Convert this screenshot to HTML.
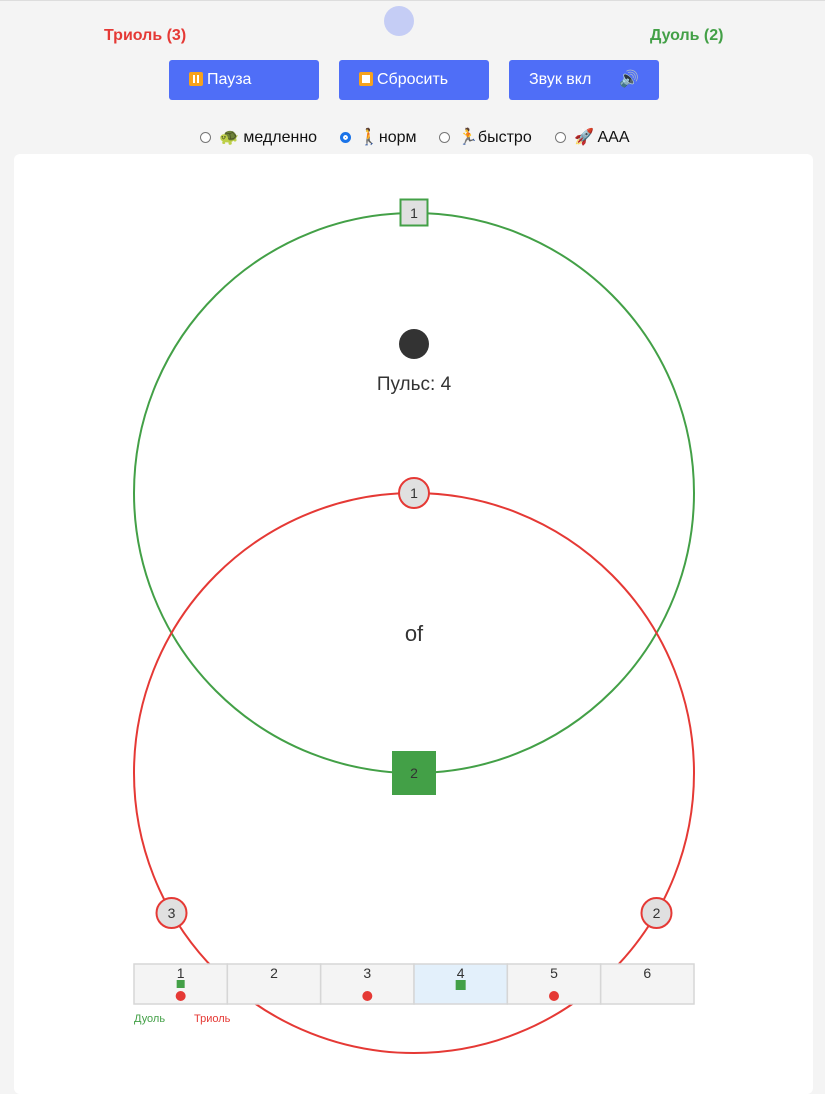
<!DOCTYPE html>
<html><head><meta charset="utf-8"><style>
body{margin:0;width:825px;height:1076px;background:#f4f4f4;font-family:"Liberation Sans",sans-serif;overflow:hidden;position:relative}
.abs{position:absolute}
.btn{position:absolute;top:60px;width:150px;height:40px;background:#4f6ef7;border-radius:3px;color:#fff;font-size:16px;line-height:40px;box-sizing:border-box;padding-left:20px}
.ic{display:inline-block;width:14px;height:14px;background:#f7a21b;border-radius:2px;vertical-align:-2px;margin-right:4px;position:relative}
.radio{position:absolute;top:127px;font-size:16px;color:#111;display:flex;align-items:center}
.radio i{display:inline-block;width:11px;height:11px;border:1px solid #777;border-radius:50%;margin-right:8px;background:#fff;box-sizing:border-box}
</style></head><body>
<div class="abs" style="left:0;top:0;width:825px;height:1px;background:#ddd"></div>
<div class="abs" style="left:384px;top:6px;width:30px;height:30px;border-radius:50%;background:#c5cdf5"></div>
<div class="abs" style="left:104px;top:27px;color:#e53935;font-weight:bold;font-size:16px">Триоль (3)</div>
<div class="abs" style="left:650px;top:27px;color:#43a047;font-weight:bold;font-size:16px">Дуоль (2)</div>
<div class="btn" style="left:169px"><span class="ic"><span style="position:absolute;left:4px;top:3px;width:2px;height:8px;background:#fff"></span><span style="position:absolute;left:8px;top:3px;width:2px;height:8px;background:#fff"></span></span>Пауза</div>
<div class="btn" style="left:339px"><span class="ic"><span style="position:absolute;left:3px;top:3px;width:8px;height:8px;background:#fff"></span></span>Сбросить</div>
<div class="btn" style="left:509px">Звук вкл <span style="position:absolute;left:110px">🔊</span></div>
<div class="radio" style="left:200px"><i></i>🐢 медленно</div>
<div class="radio" style="left:340px"><i style="border:3px solid #1a73e8;box-shadow:inset 0 0 0 2px #fff;background:#1a73e8"></i>🚶норм</div>
<div class="radio" style="left:439px"><i></i>🏃быстро</div>
<div class="radio" style="left:555px"><i></i>🚀 AAA</div>
<div class="abs" style="left:14px;top:154px;width:799px;height:940px;background:#fff;border-radius:6px"></div>
<svg class="abs" style="left:0;top:0" width="825" height="1076" font-family="Liberation Sans, sans-serif">
<circle cx="414" cy="493" r="280" fill="none" stroke="#43a047" stroke-width="2"/>
<circle cx="414" cy="773" r="280" fill="none" stroke="#e53935" stroke-width="2"/>
<circle cx="414" cy="344" r="15" fill="#333"/>
<text x="414" y="390" text-anchor="middle" font-size="19" fill="#333">Пульс: 4</text>
<text x="414" y="641" text-anchor="middle" font-size="22" fill="#333">of</text>
<g id="nodes"></g>
<g id="grid"></g>
<text x="134" y="1022" font-size="11" fill="#43a047">Дуоль</text>
<text x="194" y="1022" font-size="11" fill="#e53935">Триоль</text>
</svg>
<script>
const cells=[1,2,3,4,5,6];
const dupletHits=[1,4];
const tripletHits=[1,3,5];
const activeCell=4;
const NS="http://www.w3.org/2000/svg";
function mk(t,a){const e=document.createElementNS(NS,t);for(const k in a)e.setAttribute(k,a[k]);return e;}
const nodes=document.getElementById('nodes');
// duplet nodes
[0,1].forEach(i=>{const a=Math.PI*i;const x=414+280*Math.sin(a),y=493-280*Math.cos(a);
 const s=i==1?42:27;
 const r=mk('rect',{x:x-s/2,y:y-s/2,width:s,height:i==1?42:26,fill:i==1?'#43a047':'#e0e0e0',stroke:'#43a047','stroke-width':2});
 
 
 nodes.appendChild(r);
 const t=mk('text',{x:x,y:y+5,'text-anchor':'middle','font-size':14,fill:'#333'});t.textContent=i+1;
 
 
 nodes.appendChild(t);});
[0,1,2].forEach(i=>{const a=2*Math.PI*i/3;const x=414+280*Math.sin(a),y=773-280*Math.cos(a);
 const c=mk('circle',{cx:x,cy:y,r:15,fill:'#e0e0e0',stroke:'#e53935','stroke-width':2});
 
 
 nodes.appendChild(c);
 const t=mk('text',{x:x,y:y+5,'text-anchor':'middle','font-size':14,fill:'#333'});t.textContent=i+1;
 
 
 nodes.appendChild(t);});
const g=document.getElementById('grid');const x0=134,w=560/cells.length,y0=964,h=40;
cells.forEach((c,i)=>{const x=x0+i*w;
 const r=mk('rect',{x:x,y:y0,width:w,height:h,fill:c==activeCell?'#e3f0fb':'#f4f4f4',stroke:'#d6d6d6','stroke-width':1.5});
 
 
 g.appendChild(r);
 const t=mk('text',{x:x+w/2,y:y0+14,'text-anchor':'middle','font-size':14,fill:'#333'});t.textContent=c;
 
 
 g.appendChild(t);
 if(dupletHits.includes(c)){const s=c==activeCell?10:8;const m=mk('rect',{x:x+w/2-s/2,y:y0+16,width:s,height:s,fill:'#43a047'});
  
  
  g.appendChild(m);}
 if(tripletHits.includes(c)){const m=mk('circle',{cx:x+w/2,cy:y0+32,r:5,fill:'#e53935'});
  
  
  g.appendChild(m);}
});
</script>
</body></html>
